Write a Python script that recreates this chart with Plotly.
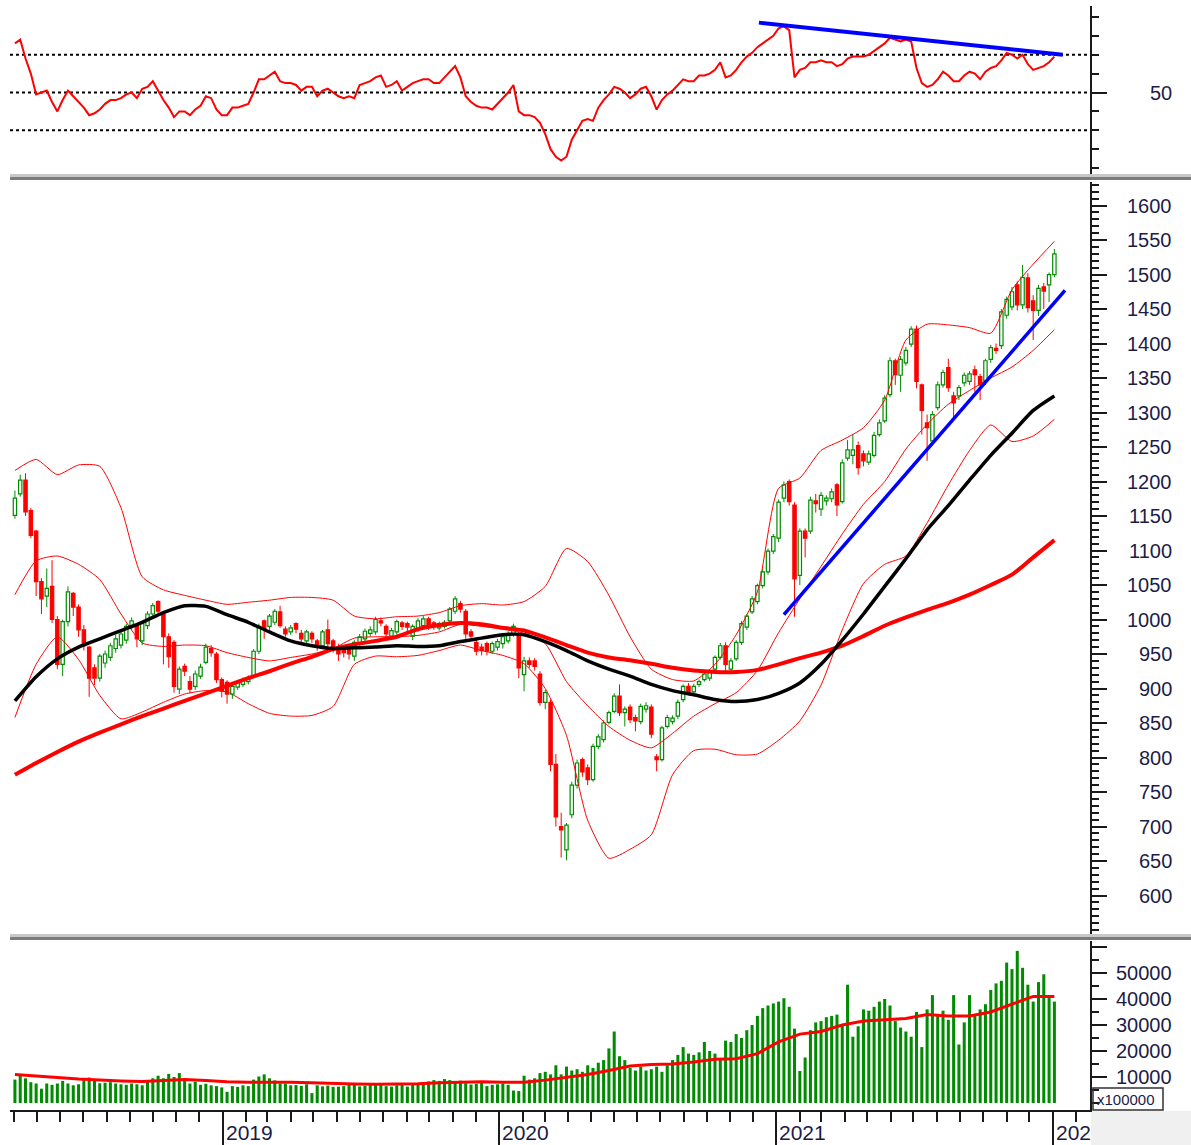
import plotly.graph_objects as go
import pandas as pd

W, H = 1191, 1145

def fx(p):
    return p / W

def fy(p):
    return 1 - p / H

# ---------------- data (weekly, VN-Index) ----------------
weeks = pd.date_range("2018-04-02", periods=197, freq="7D")

opens = [
    1151, 1182, 1202, 1158, 1128, 1055, 1034, 1048, 1000, 935,
    997, 1038, 1018, 985, 960, 930, 915, 937, 945, 958,
    963, 970, 990, 991, 969, 991, 1008, 1026, 1008, 975,
    967, 899, 932, 910, 903, 918, 938, 958, 950, 913,
    909, 892, 902, 906, 910, 918, 954, 998, 990, 996,
    1011, 986, 982, 994, 980, 969, 980, 969, 962, 985,
    969, 960, 958, 956, 947, 965, 972, 980, 982, 998,
    990, 976, 982, 995, 994, 976, 986, 991, 1001, 995,
    988, 990, 998, 1012, 1023, 1012, 982, 967, 960, 965,
    954, 960, 965, 969, 979, 979, 920, 940, 940, 921,
    880, 880, 790, 700, 666, 717, 760, 797, 785, 768,
    816, 826, 851, 867, 889, 865, 873, 858, 852, 870,
    873, 801, 797, 845, 852, 860, 884, 903, 895, 906,
    913, 915, 928, 945, 962, 928, 943, 967, 989, 1011,
    1026, 1049, 1069, 1099, 1118, 1176, 1200, 1166, 1064, 1128,
    1128, 1172, 1160, 1172, 1175, 1195, 1171, 1234, 1238, 1252,
    1240, 1228, 1238, 1268, 1288, 1326, 1375, 1354, 1372, 1399,
    1421, 1340, 1285, 1259, 1307, 1340, 1365, 1324, 1324, 1343,
    1345, 1362, 1352, 1346, 1377, 1393, 1397, 1441, 1453, 1485,
    1456, 1495, 1462, 1448, 1482, 1485, 1500,
]
highs = [
    1187, 1210, 1212, 1162, 1130, 1060, 1074, 1086, 1005, 1000,
    1048, 1040, 1022, 992, 962, 935, 950, 955, 966, 978,
    983, 994, 1003, 995, 998, 1012, 1024, 1028, 1012, 980,
    970, 932, 936, 918, 926, 936, 965, 963, 953, 916,
    912, 907, 912, 916, 919, 957, 994, 1000, 1008, 1015,
    1020, 990, 992, 996, 985, 985, 983, 972, 985, 1000,
    972, 965, 962, 960, 970, 979, 987, 990, 1004, 1003,
    993, 988, 1000, 998, 997, 993, 1002, 1005, 1004, 998,
    997, 999, 1018, 1034, 1027, 1015, 986, 970, 965, 968,
    968, 972, 978, 983, 994, 982, 946, 945, 944, 925,
    898, 884, 805, 720, 705, 765, 797, 800, 790, 820,
    834, 854, 868, 893, 906, 874, 877, 862, 878, 880,
    877, 805, 846, 862, 861, 884, 906, 908, 907, 913,
    924, 928, 948, 966, 967, 944, 970, 998, 1008, 1034,
    1052, 1073, 1103, 1124, 1174, 1200, 1203, 1170, 1132, 1132,
    1178, 1182, 1185, 1180, 1190, 1198, 1232, 1260, 1268, 1258,
    1245, 1245, 1272, 1290, 1325, 1380, 1378, 1382, 1395, 1425,
    1426, 1342, 1297, 1302, 1345, 1362, 1378, 1330, 1340, 1358,
    1360, 1368, 1356, 1378, 1398, 1400, 1450, 1468, 1482, 1490,
    1514, 1502, 1470, 1485, 1488, 1503, 1537,
]
lows = [
    1146, 1178, 1150, 1118, 1034, 1008, 1018, 995, 928, 918,
    990, 1005, 975, 955, 888, 905, 910, 930, 940, 952,
    958, 965, 985, 960, 963, 986, 1004, 1008, 935, 930,
    894, 892, 918, 893, 898, 914, 935, 946, 908, 887,
    878, 885, 898, 902, 906, 915, 950, 972, 985, 992,
    988, 975, 978, 980, 965, 965, 966, 955, 958, 960,
    952, 940, 945, 942, 940, 962, 968, 976, 978, 990,
    972, 972, 978, 985, 983, 970, 982, 987, 985, 985,
    984, 987, 995, 1008, 1010, 972, 970, 948, 948, 948,
    950, 955, 958, 965, 975, 915, 896, 930, 926, 875,
    870, 780, 700, 655, 651, 712, 755, 772, 760, 765,
    812, 822, 848, 864, 860, 845, 850, 838, 848, 865,
    828, 780, 794, 842, 848, 856, 880, 890, 891, 902,
    910, 911, 925, 942, 925, 924, 940, 963, 985, 1008,
    1022, 1045, 1065, 1095, 1112, 1170, 1165, 1004, 1050, 1090,
    1124, 1155, 1150, 1165, 1170, 1150, 1168, 1230, 1225, 1210,
    1222, 1224, 1235, 1265, 1285, 1322, 1340, 1330, 1368, 1395,
    1335, 1268, 1230, 1255, 1303, 1336, 1330, 1290, 1318, 1338,
    1340, 1330, 1318, 1340, 1372, 1385, 1392, 1436, 1448, 1448,
    1450, 1445, 1405, 1440, 1450, 1460, 1496,
]
closes = [
    1176, 1202, 1156, 1122, 1055, 1030, 1045, 1000, 935, 997,
    1040, 1018, 985, 962, 915, 915, 947, 950, 962, 972,
    979, 990, 998, 972, 994, 1008, 1020, 1012, 975, 946,
    903, 928, 925, 899, 921, 931, 960, 952, 913, 896,
    892, 903, 908, 913, 915, 954, 990, 986, 1005, 1012,
    991, 979, 988, 986, 972, 982, 972, 962, 982, 965,
    957, 950, 952, 950, 967, 975, 983, 985, 1000, 995,
    979, 984, 997, 990, 989, 990, 998, 1001, 991, 990,
    994, 996, 1015, 1030, 1015, 979, 976, 954, 955, 954,
    965, 968, 975, 979, 990, 930, 940, 935, 932, 880,
    894, 790, 714, 695, 702, 760, 792, 779, 768, 816,
    830, 850, 865, 889, 865, 870, 855, 853, 874, 875,
    834, 797, 843, 858, 857, 880, 903, 894, 903, 910,
    921, 925, 945, 962, 935, 940, 967, 994, 1005, 1030,
    1049, 1069, 1099, 1120, 1170, 1195, 1171, 1059, 1128, 1118,
    1173, 1168, 1180, 1176, 1185, 1166, 1227, 1246, 1246, 1220,
    1230, 1240, 1267, 1285, 1321, 1375, 1355, 1377, 1390, 1421,
    1345, 1303, 1278, 1297, 1340, 1358, 1336, 1314, 1336, 1354,
    1356, 1355, 1340, 1375, 1394, 1390, 1446, 1464, 1475, 1456,
    1496, 1452, 1448, 1480, 1476, 1500, 1530,
]
volume = [
    9000, 11000, 9500, 8000, 7500, 5500, 7500, 7000, 7500, 8500,
    7500, 6800, 7200, 9000, 9800, 8500, 7600, 7800, 8000, 7500,
    7200, 7000, 7500, 7200, 6800, 8500, 9500, 10500, 9500, 11200,
    10000, 11500, 9000, 7500, 8200, 7000, 7400, 6800, 6500, 6000,
    4300, 6500, 6200, 6800, 6500, 9000, 10200, 11000, 9500, 8700,
    7500, 7400, 6800, 6900, 6600, 7200, 3800, 6800, 6400, 6700,
    6200, 6300, 6500, 6900, 7300, 6400, 6600, 7500, 7200, 6900,
    6500, 6300, 6800, 7000, 6300, 7600, 7300, 7800, 8300, 8800,
    8500, 9200, 8800, 8300, 8600, 7600, 7100, 7400, 7900, 6500,
    7000, 7200, 7500, 7000, 4800, 4600, 10500, 9000, 9500, 11500,
    12000, 11000, 14500, 11000, 14000, 12500, 13000, 12000, 14500, 13500,
    15500, 16500, 21000, 27500, 18000, 16500, 13500, 12500, 14000, 12500,
    13000, 14000, 12000, 14500, 16500, 18500, 21500, 19000, 18500, 19500,
    23500, 20000, 19000, 16500, 24000, 23500, 26500, 25000, 28000, 30000,
    33500, 36500, 37500, 38300, 39000, 40300, 37000, 28600, 12300, 17500,
    28000, 31000, 31500, 33000, 33500, 34000, 30000, 45500, 25500, 29500,
    36000, 35500, 37000, 39000, 40000, 37500, 31500, 29000, 27500, 25500,
    35000, 21500, 36000, 41500, 33500, 35500, 32000, 41500, 22500, 31000,
    41500, 34000, 36000, 38000, 43500, 46000, 47000, 54000, 51500, 58500,
    52000, 45500, 39000, 46500, 49500, 40500, 39000,
]
rsi = [
    76, 78, 68, 60, 49, 50, 51, 45, 40, 46,
    51, 48, 45, 42, 38, 39, 41, 44, 46, 46,
    47, 49, 50, 47, 52, 53, 56, 51, 46, 42,
    37, 40, 40, 38, 41, 43, 48, 47, 41, 38,
    38, 42, 42, 43, 44, 50, 57, 57, 59, 61,
    56, 55, 55, 54, 51, 53, 53, 48, 51, 52,
    50, 48, 47, 48, 47, 54, 55, 56, 58, 59,
    53, 54, 56, 51, 53, 55, 56, 57, 57, 55,
    55, 58, 61, 64, 58, 48, 45, 43, 42, 42,
    41, 44, 47, 50, 54, 40, 38, 38, 37, 34,
    28, 20, 16, 14, 16, 25, 30, 35, 36, 35,
    42, 46, 49, 53, 52, 50, 47, 49, 52, 53,
    48, 41, 46, 49, 51, 54, 57, 56, 56, 59,
    59, 60, 62, 66, 58, 59, 62, 66, 69, 71,
    74, 76, 78, 80, 84, 85, 83, 58, 62, 63,
    66, 66, 67, 66, 66, 64, 65, 68, 69, 69,
    69, 70, 72, 74, 76, 79, 78, 77, 78, 77,
    63, 55, 53, 54, 57, 61, 59, 56, 56, 59,
    61, 60, 57, 61, 63, 64, 67, 71, 70, 68,
    70, 65, 62, 63, 64, 66, 69,
]

# overlay lines, read every 4th week
sample_weeks = weeks[::4]
bb_upper = [1216, 1232, 1210, 1224, 1222, 1162, 1062, 1043, 1035, 1028,
            1022, 1025, 1028, 1032, 1032, 1028, 1005, 1001, 1004, 1005,
            1010, 1020, 1023, 1021, 1026, 1048, 1103, 1084, 1035, 975,
            928, 913, 911, 935, 978, 1040, 1190, 1205, 1245, 1260,
            1278, 1318, 1405, 1428, 1427, 1423, 1415, 1478, 1515, 1548]
bb_mid = [1036, 1085, 1092, 1080, 1058, 1008, 966, 961, 963, 962,
          952, 945, 940, 945, 950, 958, 973, 975, 975, 977,
          982, 993, 990, 986, 980, 965, 910, 875, 845, 825,
          814, 835, 860, 878, 894, 926, 981, 1030, 1077, 1124,
          1167, 1200, 1247, 1283, 1312, 1332, 1350, 1366, 1390, 1420]
bb_lower = [858, 935, 975, 942, 890, 856, 866, 880, 892, 897,
            895, 878, 864, 860, 861, 874, 935, 947, 946, 948,
            955, 963, 955, 948, 936, 900, 832, 709, 654, 667,
            688, 775, 810, 812, 804, 805, 825, 853, 905, 985,
            1052, 1080, 1092, 1140, 1195, 1245, 1282, 1258, 1266, 1290]
ma_black = [882, 917, 943, 960, 972, 984, 996, 1010, 1020, 1019,
            1007, 996, 982, 969, 962, 958, 959, 960, 962, 961,
            962, 968, 973, 978, 978, 968, 955, 940, 928, 918,
            906, 897, 891, 884, 881, 884, 893, 908, 935, 970,
            1008, 1048, 1088, 1130, 1165, 1202, 1238, 1270, 1303, 1324]
ma_red = [775, 792, 808, 823, 836, 848, 860, 871, 882, 893,
          904, 915, 925, 936, 946, 957, 964, 969, 975, 986,
          992, 995, 993, 988, 984, 974, 963, 952, 945, 941,
          936, 930, 926, 924, 924, 927, 935, 944, 952, 962,
          976, 991, 1003, 1014, 1024, 1036, 1050, 1065, 1090, 1115]
vol_ma = [11000, 10500, 9800, 9200, 8800, 8500, 8300, 8600, 9000, 8700,
          8200, 8000, 8100, 8000, 7800, 7500, 7300, 7200, 7200, 7400,
          7800, 8100, 8200, 8000, 8000, 8800, 9800, 11000, 12500, 14200,
          14800, 15000, 15800, 16800, 17000, 19000, 23500, 26500, 27500, 30000,
          31500, 32000, 32500, 34000, 33500, 33500, 35000, 38000, 41000, 41000]

price_trend_dates = ["2021-01-11", "2022-01-17"]
price_trend = [1007, 1477]
rsi_trend_dates = ["2020-12-09", "2022-01-14"]
rsi_trend = [87, 70]
rsi_levels = [30, 50, 70]

price_ticks = list(range(600, 1601, 50))
vol_ticks = [10000, 20000, 30000, 40000, 50000]
year_ticks = ["2019-01-01", "2020-01-01", "2021-01-01", "2022-01-01"]
year_labels = ["2019", "2020", "2021", "202"]

# ---------------- styling ----------------
GREEN = "#008c00"
RED = "#ff0000"
BLUE = "#0000ff"
TXT = "#1c1c48"
FONT = "Liberation Sans, Arial, sans-serif"
DAY = 86400000

n = len(closes)
up = [i for i in range(n) if closes[i] >= opens[i]]
dn = [i for i in range(n) if closes[i] < opens[i]]


def wicks(idx):
    xs, ys = [], []
    for i in idx:
        top = max(opens[i], closes[i])
        bot = min(opens[i], closes[i])
        xs += [weeks[i], weeks[i], None, weeks[i], weeks[i], None]
        ys += [highs[i], top, None, bot, lows[i], None]
    return xs, ys


fig = go.Figure()

# Bollinger bands (thin red)
for band in (bb_upper, bb_mid, bb_lower):
    fig.add_trace(go.Scatter(x=sample_weeks, y=band, mode="lines",
                             line=dict(color=RED, width=1, shape="spline",
                                       smoothing=0.6),
                             xaxis="x", yaxis="y2", hoverinfo="skip"))

# candle wicks
for idx, col in ((up, GREEN), (dn, RED)):
    wx, wy = wicks(idx)
    fig.add_trace(go.Scatter(x=wx, y=wy, mode="lines", connectgaps=False,
                             line=dict(color=col, width=1),
                             xaxis="x", yaxis="y2", hoverinfo="skip"))

# candle bodies
fig.add_trace(go.Bar(
    x=[weeks[i] for i in up],
    y=[max(closes[i] - opens[i], 1.2) for i in up],
    base=[opens[i] for i in up],
    width=4.4 * DAY,
    marker=dict(color="white", line=dict(color=GREEN, width=1.2)),
    xaxis="x", yaxis="y2", hoverinfo="skip"))
fig.add_trace(go.Bar(
    x=[weeks[i] for i in dn],
    y=[max(opens[i] - closes[i], 1.2) for i in dn],
    base=[closes[i] for i in dn],
    width=4.4 * DAY,
    marker=dict(color=RED, line=dict(color=RED, width=1.2)),
    xaxis="x", yaxis="y2", hoverinfo="skip"))

# moving averages
fig.add_trace(go.Scatter(x=sample_weeks, y=ma_red, mode="lines",
                         line=dict(color=RED, width=4, shape="spline",
                                   smoothing=0.6),
                         xaxis="x", yaxis="y2", hoverinfo="skip"))
fig.add_trace(go.Scatter(x=sample_weeks, y=ma_black, mode="lines",
                         line=dict(color="black", width=3.5, shape="spline",
                                   smoothing=0.6),
                         xaxis="x", yaxis="y2", hoverinfo="skip"))
fig.add_trace(go.Scatter(x=price_trend_dates, y=price_trend, mode="lines",
                         line=dict(color=BLUE, width=3.5),
                         xaxis="x", yaxis="y2", hoverinfo="skip"))

# RSI
fig.add_trace(go.Scatter(x=weeks, y=rsi, mode="lines",
                         line=dict(color=RED, width=2),
                         xaxis="x", yaxis="y", hoverinfo="skip"))
fig.add_trace(go.Scatter(x=rsi_trend_dates, y=rsi_trend, mode="lines",
                         line=dict(color=BLUE, width=4),
                         xaxis="x", yaxis="y", hoverinfo="skip"))

# volume
fig.add_trace(go.Bar(x=weeks, y=volume, width=4 * DAY,
                     marker=dict(color=GREEN, line=dict(width=0)),
                     xaxis="x", yaxis="y3", hoverinfo="skip"))
fig.add_trace(go.Scatter(x=sample_weeks, y=vol_ma, mode="lines",
                         line=dict(color=RED, width=3),
                         xaxis="x", yaxis="y3", hoverinfo="skip"))

AX = "#1a1a1a"
common_y = dict(side="right", anchor="x", showline=True, linecolor=AX,
                linewidth=1.5, ticks="outside", tickcolor=AX, tickwidth=1.5,
                ticklen=15, showticklabels=False, showgrid=False,
                zeroline=False, fixedrange=True)

shapes = []
for lv in rsi_levels:
    shapes.append(dict(type="line", xref="x domain", yref="y", x0=0, x1=1,
                       y0=lv, y1=lv, line=dict(color="black", width=2,
                                                dash="3px,3px"),
                       layer="below"))
# panel separators
for top in (174, 934):
    shapes.append(dict(type="rect", xref="paper", yref="paper",
                       x0=fx(10), x1=1, y0=fy(top + 3), y1=fy(top),
                       fillcolor="#c8c8c8", line=dict(width=0)))
    shapes.append(dict(type="rect", xref="paper", yref="paper",
                       x0=fx(10), x1=1, y0=fy(top + 6), y1=fy(top + 3),
                       fillcolor="#7c7c7c", line=dict(width=0)))
# light gray corner under the value axis
shapes.append(dict(type="rect", xref="paper", yref="paper",
                   x0=fx(1091), x1=1, y0=0, y1=fy(1111),
                   fillcolor="#f0f0f0", line=dict(width=0), layer="below"))
# x100000 box
shapes.append(dict(type="rect", xref="paper", yref="paper",
                   x0=fx(1093), x1=fx(1163), y0=fy(1110), y1=fy(1088),
                   line=dict(color="#303030", width=1.5)))

ann = []
for p in price_ticks:
    ann.append(dict(x=fx(1174), xref="paper", xanchor="right", y=p, yref="y2",
                    yanchor="middle", text=str(p), showarrow=False,
                    font=dict(size=20, color=TXT, family=FONT)))
for v in vol_ticks:
    ann.append(dict(x=fx(1174), xref="paper", xanchor="right", y=v, yref="y3",
                    yanchor="middle", text=str(v), showarrow=False,
                    font=dict(size=20, color=TXT, family=FONT)))
ann.append(dict(x=fx(1174), xref="paper", xanchor="right", y=50, yref="y",
                yanchor="middle", text="50", showarrow=False,
                font=dict(size=20, color=TXT, family=FONT)))
ann.append(dict(x=fx(1095), xref="paper", xanchor="left", y=fy(1099),
                yref="paper", yanchor="middle", text="x100000",
                showarrow=False, font=dict(size=15, color=TXT, family=FONT)))
for d, lab in zip(year_ticks, year_labels):
    ann.append(dict(x=d, xref="x", xanchor="left", xshift=1, y=fy(1132),
                    yref="paper", yanchor="middle", text=lab, showarrow=False,
                    font=dict(size=21, color=TXT, family=FONT)))

fig.update_layout(
    width=W, height=H, autosize=False,
    margin=dict(l=0, r=0, t=0, b=0),
    paper_bgcolor="white", plot_bgcolor="white",
    showlegend=False, barmode="overlay", hovermode=False,
    xaxis=dict(domain=[fx(10), fx(1090)], anchor="y3", type="date",
               range=["2018-03-26 12:00", "2022-02-19"],
               showline=True, linecolor=AX, linewidth=1.5,
               ticks="outside", tickvals=year_ticks, ticklen=36,
               tickwidth=1.5, tickcolor=AX, showticklabels=False,
               showgrid=False, zeroline=False, fixedrange=True,
               minor=dict(dtick="M1", tick0="2018-01-01", ticks="outside",
                          ticklen=10, tickwidth=1.5, tickcolor=AX,
                          showgrid=False)),
    yaxis=dict(domain=[fy(176), fy(6)], range=[5.8, 95.8],
               tickvals=[50],
               minor=dict(tickvals=[10, 20, 30, 40, 60, 70, 80, 90],
                          ticks="outside", ticklen=7, tickwidth=1.5,
                          tickcolor=AX, showgrid=False),
               **common_y),
    yaxis2=dict(domain=[fy(935), fy(182)], range=[542.75, 1634.1],
                tickvals=price_ticks,
                minor=dict(dtick=10, tick0=0, ticks="outside", ticklen=7,
                           tickwidth=1.5, tickcolor=AX, showgrid=False),
                **common_y),
    yaxis3=dict(domain=[fy(1110), fy(941)], range=[-2692, 62308],
                tickvals=[10000, 20000, 30000, 40000, 50000, 60000],
                minor=dict(dtick=5000, tick0=0, ticks="outside", ticklen=7,
                           tickwidth=1.5, tickcolor=AX, showgrid=False),
                **common_y),
    shapes=shapes,
    annotations=ann,
)

fig.write_html(
    "out.html",
    config={"displayModeBar": False},
    post_script="document.body.style.margin='0';"
                "document.body.style.padding='0';"
                "document.body.style.overflow='hidden';",
)
